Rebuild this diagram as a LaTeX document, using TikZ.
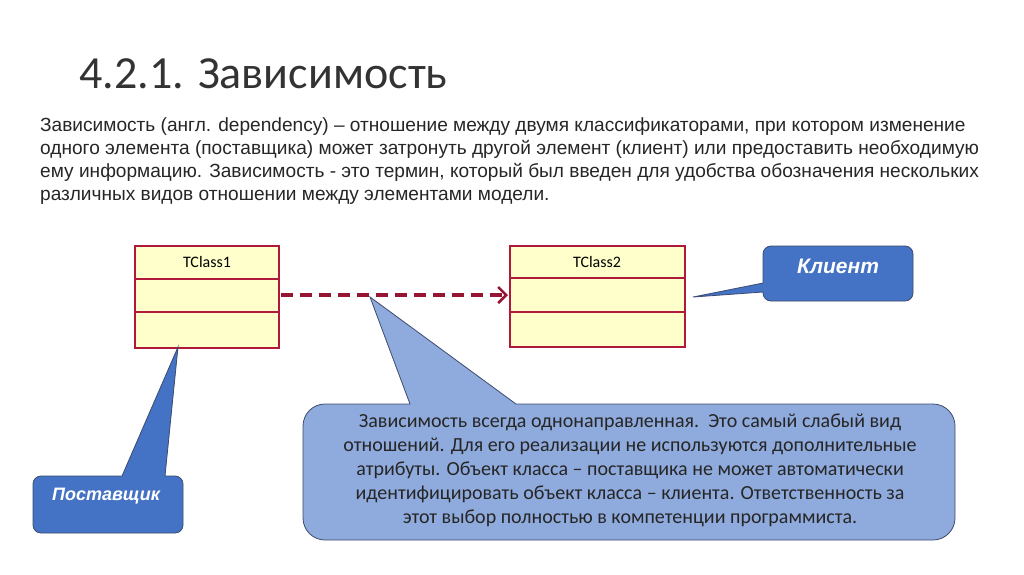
\documentclass[tikz,border=0pt]{standalone}
\usepackage{fontspec}
\setmainfont{Liberation Sans}
\newfontfamily\calfont{Carlito}
\usetikzlibrary{arrows.meta}
\definecolor{cbord}{RGB}{175,25,60}
\definecolor{cfill}{RGB}{255,255,204}
\definecolor{cblue}{RGB}{68,114,196}
\definecolor{clight}{RGB}{143,170,220}
\definecolor{cline}{RGB}{60,75,110}
\tikzset{
 cls/.style={draw=cbord,line width=2.3pt,fill=cfill},
 callout/.style={draw=cline,line width=0.8pt},
 lbl/.style={font=\calfont\fontsize{16}{18}\selectfont,anchor=center},
 ctext/.style={text=white,font=\bfseries\itshape\fontsize{21}{24}\selectfont}
}
\begin{document}
\begin{tikzpicture}[x=1pt,y=-1pt]
\useasboundingbox (0,0) rectangle (1024,574);
\node[anchor=base west,font=\calfont\fontsize{46}{52}\selectfont,text=black!80] (title) at (76,88) {4.2.1. Зависимость};
\node[anchor=north west,inner sep=0pt,align=left,font=\fontsize{19.1}{23}\selectfont,text=black!85] (body) at (40,117) {Зависимость (англ. dependency) – отношение между двумя классификаторами, при котором изменение\\одного элемента (поставщика) может затронуть другой элемент (клиент) или предоставить необходимую\\ему информацию. Зависимость - это термин, который был введен для удобства обозначения нескольких\\различных видов отношении между элементами модели.};
% classes
\draw[cls] (135,246) rectangle (279,348);
\draw[cls] (135,279) -- (279,279) (135,312) -- (279,312);
\node[lbl] (t1) at (207,262) {TClass1};
\draw[cls] (510,246) rectangle (685,347);
\draw[cls] (510,278) -- (685,278) (510,312) -- (685,312);
\node[lbl] (t2) at (597,262) {TClass2};
\coordinate (a1) at (281,295);
\coordinate (a2) at (508,295);
\draw[cbord!85!black,line width=3.2pt,dash pattern=on 12pt off 7pt,-{Straight Barb[length=8pt,width=16pt,line width=2.5pt]}] (a1) -- (a2);
% client callout
\filldraw[callout,fill=cblue] (693,297) -- (763,283) [rounded corners=8pt] -- (763,246) -- (913,246) -- (913,301) -- (763,301) [sharp corners] -- (763,292) -- cycle;
\node[ctext] (kl) at (838,266) {Клиент};
% supplier callout
\filldraw[callout,fill=cblue] (178,347) -- (165,476) [rounded corners=8pt] -- (183,476) -- (183,533) -- (33,533) -- (33,476) [sharp corners] -- (122,476) -- cycle;
\node[ctext,font=\bfseries\itshape\fontsize{18}{20}\selectfont] (ps) at (106,496) {Поставщик};
% big callout
\filldraw[callout,fill=clight] (370,297) -- (516,404) [rounded corners=22pt] -- (955,404) -- (955,540) -- (303,540) -- (303,404) [sharp corners] -- (410,404) -- cycle;
\node[align=center,font=\calfont\fontsize{20}{24}\selectfont,text=black!85] (bt) at (630,470) {Зависимость всегда однонаправленная.\ \ Это самый слабый вид\\отношений. Для его реализации не используются дополнительные\\атрибуты. Объект класса – поставщика не может автоматически\\идентифицировать объект класса – клиента. Ответственность за\\этот выбор полностью в компетенции программиста.};
\end{tikzpicture}
\end{document}
